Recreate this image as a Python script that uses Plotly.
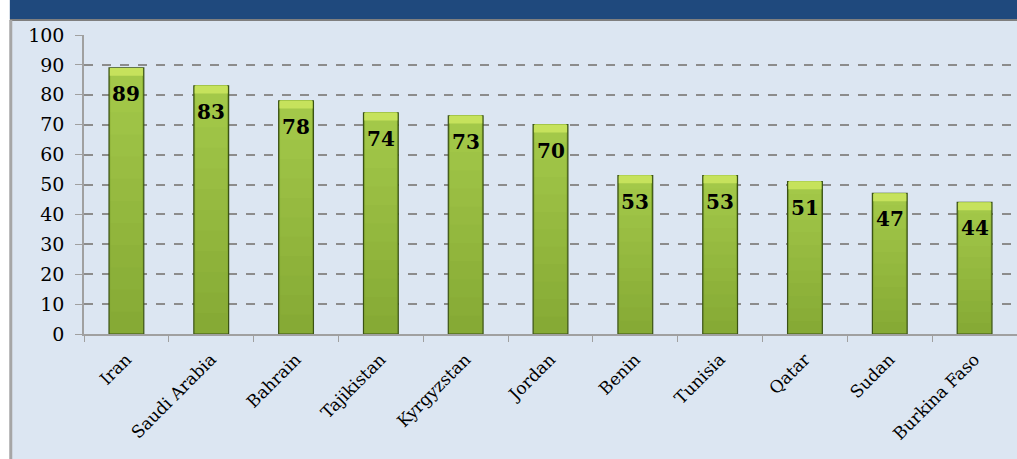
import plotly.graph_objects as go

HEADER_BG = '#1F497D'
CHART_BG = '#DCE6F2'
GRID = '#8C8C8C'
AXIS = '#A0A0A0'
BAR_EDGE = '#3A5214'
BAR_TOP = '#C6E25C'
FONT = 'DejaVu Serif, Liberation Serif, serif'

countries = ['Iran', 'Saudi Arabia', 'Bahrain', 'Tajikistan', 'Kyrgyzstan', 'Jordan',
             'Benin', 'Tunisia', 'Qatar', 'Sudan', 'Burkina Faso']
scores = [89, 83, 78, 74, 73, 70, 53, 53, 51, 47, 44]


def _mix(a, b, t):
    a = [int(a[i:i + 2], 16) for i in (1, 3, 5)]
    b = [int(b[i:i + 2], 16) for i in (1, 3, 5)]
    return 'rgb(%d,%d,%d)' % tuple(round(x + (y - x) * t) for x, y in zip(a, b))


fig = go.Figure()
# outlined bar
fig.add_trace(go.Bar(x=countries, y=scores, width=0.41, marker=dict(color='#86AA35', line=dict(color=BAR_EDGE, width=1.2)),
                     hoverinfo='x+y'))
# soft vertical gradient: lighter toward the top
n = 12
for i in range(1, n):
    frac = i / n
    fig.add_trace(go.Bar(x=countries, y=[s * (1 - frac) for s in scores], base=[s * frac for s in scores], width=0.37,
                         marker=dict(color=_mix('#86AA35', '#A6CB4B', frac), line=dict(width=0)), hoverinfo='skip'))
# bright bevel on top
fig.add_trace(go.Bar(x=countries, y=[2.6] * len(scores), base=[s - 2.6 for s in scores], width=0.39,
                     marker=dict(color=BAR_TOP, line=dict(width=0)), hoverinfo='skip'))

for c, s in zip(countries, scores):
    fig.add_annotation(x=c, y=s, text=f'<b>{s}</b>', showarrow=False, yanchor='top', yshift=-12,
                       font=dict(family=FONT, size=20, color='#000000'))

# header band, left frame
fig.add_shape(type='rect', xref='paper', yref='paper', x0=-0.2, x1=1.2, y0=1.052, y1=1.2,
              fillcolor=HEADER_BG, line=dict(width=0), layer='above')
fig.add_shape(type='line', xref='paper', yref='paper', x0=-0.2, x1=1.2, y0=1.050, y1=1.050,
              line=dict(color='#7F7F7F', width=2))
fig.add_shape(type='rect', xref='paper', yref='paper', x0=-0.2, x1=-0.0795, y0=-0.5, y1=1.2,
              fillcolor='white', line=dict(width=0), layer='above')
fig.add_shape(type='line', xref='paper', yref='paper', x0=-0.0785, x1=-0.0785, y0=-0.5, y1=1.05,
              line=dict(color='#A6A6A6', width=3))

fig.update_layout(
    width=1017, height=459,
    margin=dict(l=84, r=0, t=35, b=125),
    paper_bgcolor=CHART_BG, plot_bgcolor=CHART_BG,
    barmode='overlay', showlegend=False,
    font=dict(family=FONT, size=17, color='#000000'),
    xaxis=dict(showgrid=False, showline=True, linecolor=AXIS, linewidth=1.5, ticks='outside',
               tickson='boundaries', ticklen=6, tickcolor=AXIS, tickangle=-45, ticklabelstandoff=7,
               tickfont=dict(family=FONT, size=17)),
    yaxis=dict(range=[0, 100], dtick=10, showgrid=True, gridcolor=GRID, griddash='dash', gridwidth=1.5,
               showline=True, linecolor=AXIS, linewidth=1.5, ticks='outside', ticklen=7, tickcolor=AXIS,
               ticklabelstandoff=7, zeroline=False, tickfont=dict(family=FONT, size=19)),
)

fig.write_html('out.html', config={'displayModeBar': False},
               post_script="document.body.style.margin='0';document.body.style.overflow='hidden';")
